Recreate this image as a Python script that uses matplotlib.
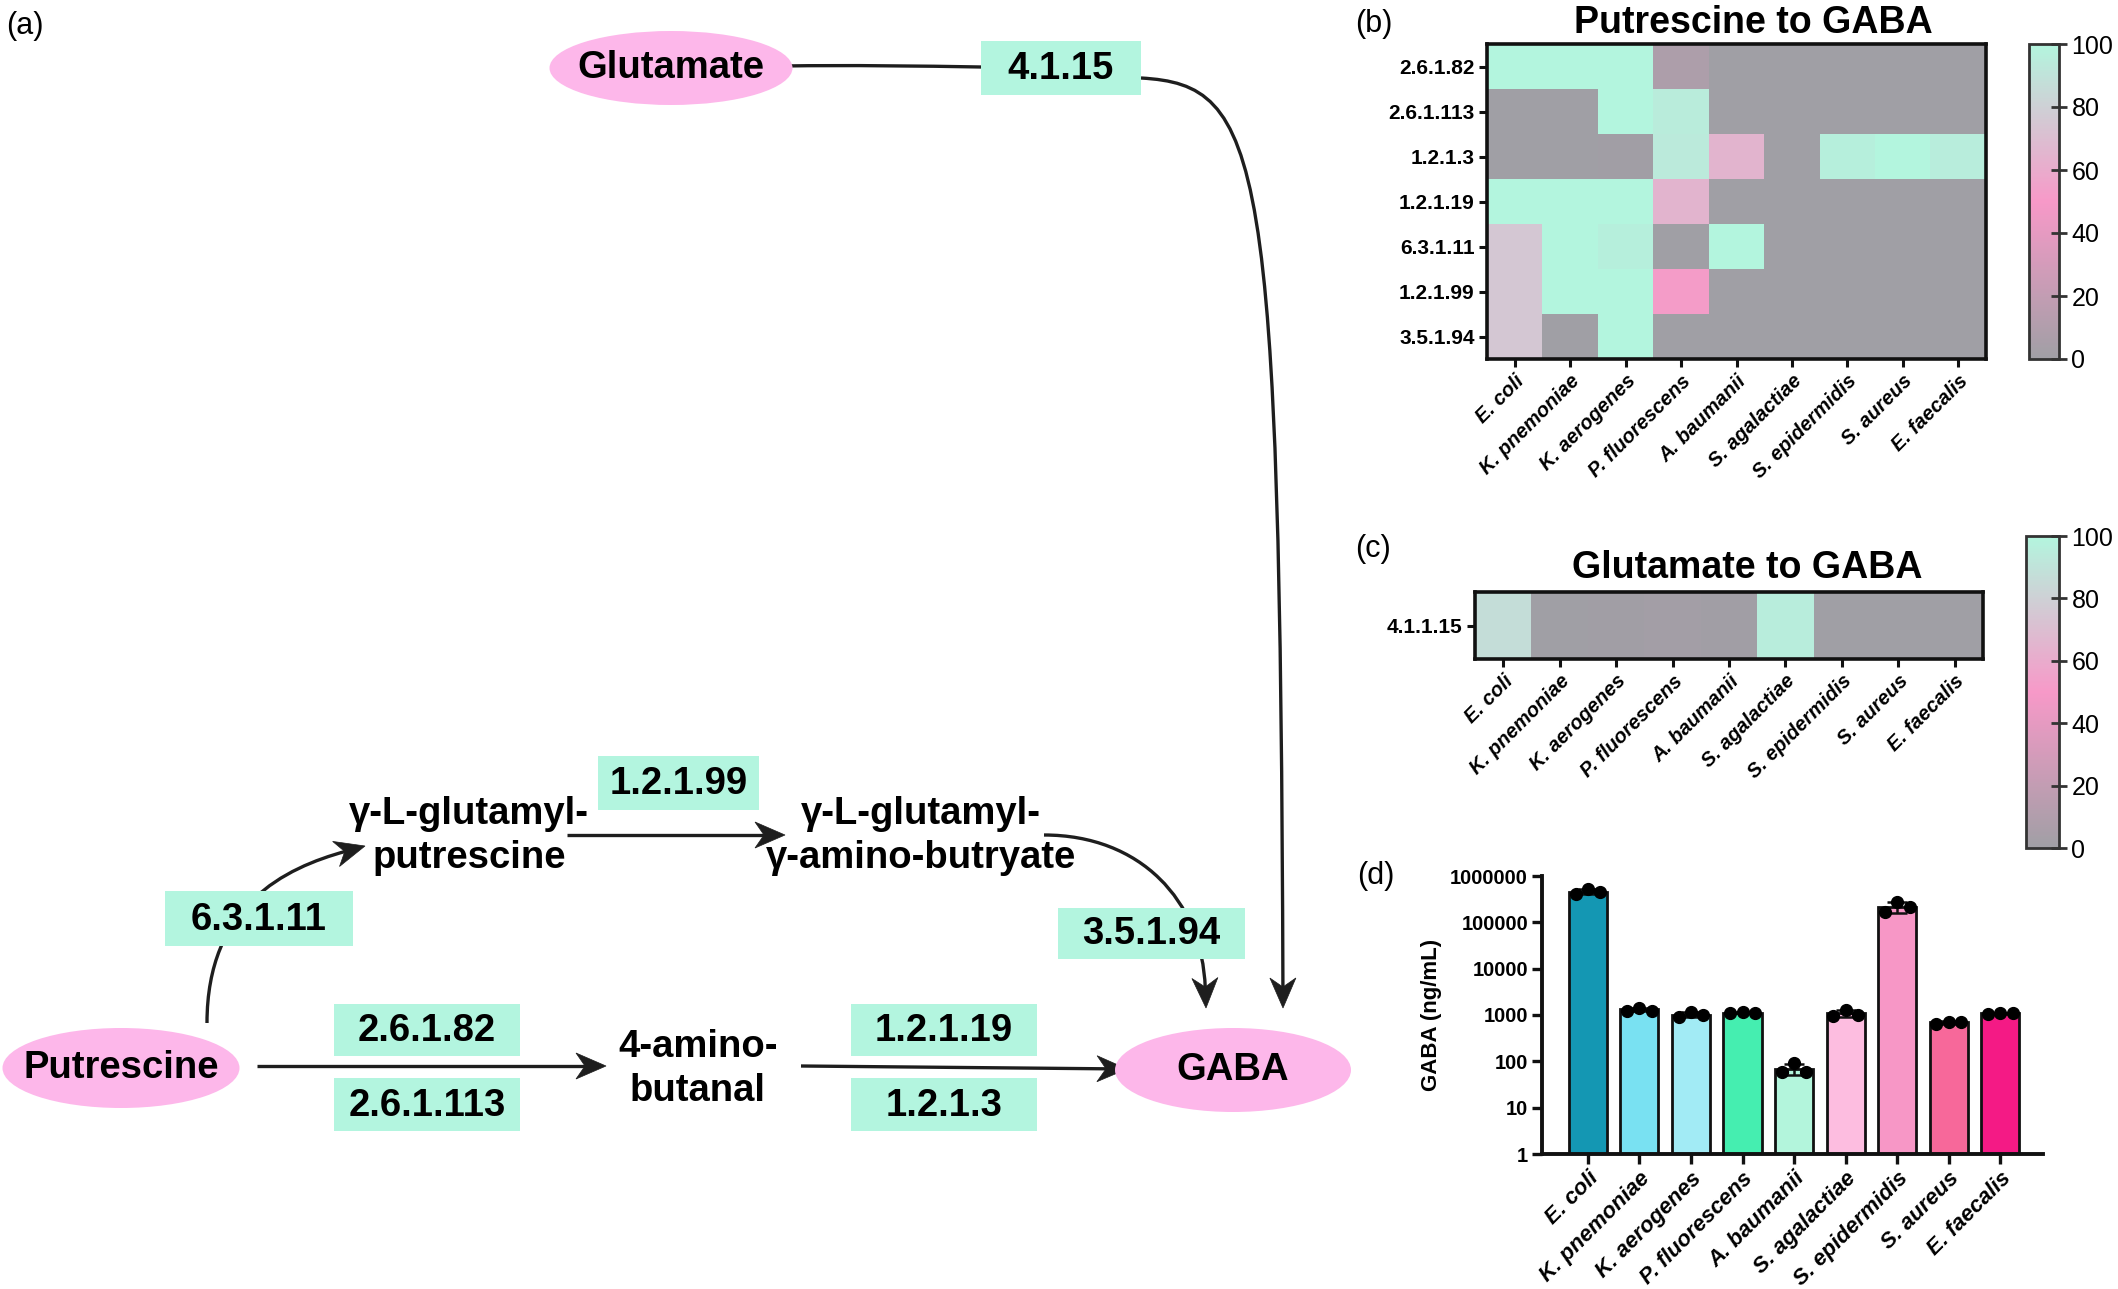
import numpy as np
import matplotlib
matplotlib.use('Agg')
import matplotlib.pyplot as plt
from matplotlib.patches import Ellipse, Rectangle, Polygon, PathPatch
from matplotlib.path import Path
from matplotlib.colors import LinearSegmentedColormap
from matplotlib.ticker import FixedLocator, NullLocator

plt.rcParams['font.family'] = ['Liberation Sans', 'DejaVu Sans']

# ---------------- data ----------------
species = ["E. coli", "K. pnemoniae", "K. aerogenes", "P. fluorescens", "A. baumanii",
           "S. agalactiae", "S. epidermidis", "S. aureus", "E. faecalis"]

put_enzymes = ["2.6.1.82", "2.6.1.113", "1.2.1.3", "1.2.1.19", "6.3.1.11", "1.2.1.99", "3.5.1.94"]
put_values = [
    [100, 100, 100, 8, 0, 0, 0, 0, 0],
    [0, 0, 100, 95, 0, 0, 0, 0, 0],
    [0, 0, 1, 94, 65, 0, 97, 100, 96],
    [100, 100, 100, 65, 0, 0, 0, 0, 0],
    [75, 100, 97, 0, 100, 0, 0, 0, 0],
    [75, 100, 100, 52, 0, 0, 0, 0, 0],
    [75, 0, 100, 0, 0, 0, 0, 0, 0],
]

glu_enzymes = ["4.1.1.15"]
glu_values = [[87, 0, 1, 2, 1, 96, 0, 0, 0]]

gaba_reps = [
    [400000, 520000, 460000],
    [1250, 1450, 1250],
    [900, 1150, 1000],
    [1100, 1150, 1100],
    [58, 90, 60],
    [950, 1300, 1000],
    [165000, 280000, 210000],
    [650, 720, 700],
    [1050, 1100, 1100],
]
bar_colors = ["#1497b3", "#79e1f2", "#a2ebf5", "#45eeb0", "#b3f5dc",
              "#fdbde0", "#f797c6", "#f7689a", "#f41a85"]
gaba_ticks = [1, 10, 100, 1000, 10000, 100000, 1000000]
gaba_ticklabels = ["1", "10", "100", "1000", "10000", "100000", "1000000"]
cbar_ticks = [0, 20, 40, 60, 80, 100]

# ---------------- figure ----------------
W, H = 2118, 1289
fig = plt.figure(figsize=(W / 100, H / 100), dpi=100)


def rect(x0, y0, x1, y1):
    return [x0 / W, 1 - y1 / H, (x1 - x0) / W, (y1 - y0) / H]


cmap = LinearSegmentedColormap.from_list("gpm", ["#a09fa5", "#f799c8", "#b3f5de"])

# ---------------- (a) pathway ----------------
axa = fig.add_axes([0, 0, 1, 1])
axa.set_xlim(0, W)
axa.set_ylim(H, 0)
axa.axis('off')

PINK = "#fdb7ea"
MINT = "#b3f5df"
LINE = "#1e1e1e"
TFS = 27.5
LW = 2.4
HL, HW, HN = 30, 13, 9   # arrow head length, half width, notch depth (px)


def ellipse(cx, cy, w, h, label):
    axa.add_patch(Ellipse((cx, cy), w, h, facecolor=PINK, edgecolor='none', zorder=2))
    axa.text(cx, cy, label, ha='center', va='center', fontsize=TFS, fontweight='bold', zorder=5)


def box(x0, y0, x1, y1, label):
    axa.add_patch(Rectangle((x0, y0), x1 - x0, y1 - y0, facecolor=MINT, edgecolor='none', zorder=3))
    axa.text((x0 + x1) / 2, (y0 + y1) / 2 + 1, label, ha='center', va='center',
             fontsize=TFS, fontweight='bold', zorder=5)


def head(tip, d):
    d = np.asarray(d, float)
    d = d / np.hypot(*d)
    n = np.array([-d[1], d[0]])
    tip = np.asarray(tip, float)
    back = tip - d * HL
    pts = [tip, back + n * HW, tip - d * (HL - HN), back - n * HW]
    axa.add_patch(Polygon(pts, closed=True, facecolor=LINE, edgecolor=LINE, lw=0.5, zorder=1.5))
    return tip - d * (HL - HN - 1)


def path_line(pts, codes):
    axa.add_patch(PathPatch(Path(pts, codes), facecolor='none', edgecolor=LINE, lw=LW,
                            capstyle='butt', zorder=1))


def arrow(p0, p1):
    end = head(p1, np.subtract(p1, p0))
    path_line([p0, tuple(end)], [Path.MOVETO, Path.LINETO])


def curve_arrow(p0, c1, c2, p3, with_head=True):
    if with_head:
        end = tuple(head(p3, np.subtract(p3, c2)))
    else:
        end = p3
    path_line([p0, c1, c2, end], [Path.MOVETO, Path.CURVE4, Path.CURVE4, Path.CURVE4])


axa.text(6, 26, "(a)", fontsize=22, ha='left', va='center')

ellipse(671, 68, 243, 74, "Glutamate")
box(981, 41, 1141, 95, "4.1.15")
curve_arrow((783, 66), (850, 65), (920, 66), (981, 67), with_head=False)
curve_arrow((1141, 78), (1262, 85), (1280, 150), (1283, 1008))

ellipse(121, 1068, 237, 80, "Putrescine")
ellipse(1233, 1070, 236, 84, "GABA")

box(165, 891, 353, 946, "6.3.1.11")
box(598, 756, 759, 810, "1.2.1.99")
box(1058, 908, 1245, 959, "3.5.1.94")
box(334, 1004, 520, 1056, "2.6.1.82")
box(334, 1078, 520, 1131, "2.6.1.113")
box(851, 1004, 1037, 1056, "1.2.1.19")
box(851, 1078, 1037, 1131, "1.2.1.3")

axa.text(469, 836, "γ-L-glutamyl-\nputrescine", ha='center', va='center', fontsize=TFS,
         fontweight='bold', linespacing=1.32)
axa.text(921, 836, "γ-L-glutamyl-\nγ-amino-butryate", ha='center', va='center', fontsize=TFS,
         fontweight='bold', linespacing=1.32)
axa.text(698, 1069, "4-amino-\nbutanal", ha='center', va='center', fontsize=TFS,
         fontweight='bold', linespacing=1.32)

curve_arrow((207, 1023), (207, 905), (285, 868), (365, 846))
arrow((567, 835), (785, 835))
curve_arrow((1044, 835), (1140, 835), (1202, 900), (1206, 1008))
arrow((257, 1066), (606, 1066))
arrow((801, 1066), (1127, 1069))

# ---------------- heatmaps ----------------


def heatmap(ax_rect, cax_rect, values, rows, title, title_xy, label, label_xy):
    ax = fig.add_axes(ax_rect)
    im = ax.imshow(np.array(values, dtype=float), cmap=cmap, vmin=0, vmax=100,
                   aspect='auto', interpolation='nearest')
    ax.set_yticks(range(len(rows)))
    ax.set_yticklabels(rows, fontsize=15, fontweight='bold')
    ax.set_xticks(range(len(species)))
    ax.set_xticklabels(species, fontsize=14.5, fontweight='bold', style='italic',
                       rotation=45, ha='right', rotation_mode='anchor')
    ax.tick_params(axis='both', width=2.2, length=6, direction='out', color='#111111', pad=3)
    for s in ax.spines.values():
        s.set_linewidth(2.6)
        s.set_color('#111111')
    fig.text(title_xy[0] / W, 1 - title_xy[1] / H, title, ha='center', va='center',
             fontsize=27, fontweight='bold')
    fig.text(label_xy[0] / W, 1 - label_xy[1] / H, label, ha='left', va='center', fontsize=22)
    cax = fig.add_axes(cax_rect)
    cb = fig.colorbar(im, cax=cax, ticks=cbar_ticks)
    cb.outline.set_linewidth(2)
    cb.outline.set_edgecolor('#333333')
    cax.tick_params(direction='inout', length=11, width=2, labelsize=18, color='#333333')
    return ax


heatmap(rect(1487, 44, 1986, 359), rect(2029, 44, 2059, 359), put_values, put_enzymes,
        "Putrescine to GABA", (1753, 23), "(b)", (1355, 24))
heatmap(rect(1475, 592, 1983, 659), rect(2026, 536, 2059, 848), glu_values, glu_enzymes,
        "Glutamate to GABA", (1747, 568), "(c)", (1355, 549))

# ---------------- (d) bar chart ----------------
axd = fig.add_axes(rect(1542, 876, 2043, 1154))
x = np.arange(len(species))
reps = np.array(gaba_reps, dtype=float)
means = reps.mean(axis=1)
sds = reps.std(axis=1, ddof=1)
axd.bar(x, means - 1, bottom=1, width=0.74, color=bar_colors, edgecolor='#111111',
        linewidth=2, zorder=2)
axd.errorbar(x, means, yerr=sds, fmt='none', ecolor='#111111', elinewidth=1.8,
             capsize=7, capthick=1.8, zorder=3)
offs = np.array([-0.24, 0.0, 0.24])
for i in range(len(species)):
    axd.plot(x[i] + offs, reps[i], 'o', color='black', markersize=8.5, zorder=4,
             clip_on=False)
axd.set_yscale('log')
axd.set_ylim(1, 1e6)
axd.set_xlim(-0.89, 8.83)
axd.yaxis.set_major_locator(FixedLocator(gaba_ticks))
axd.yaxis.set_minor_locator(NullLocator())
axd.set_yticklabels(gaba_ticklabels, fontsize=14.5, fontweight='bold')
axd.set_xticks(x)
axd.set_xticklabels(species, fontsize=16, fontweight='bold', style='italic',
                    rotation=45, ha='right', rotation_mode='anchor')
axd.tick_params(axis='both', width=2.4, length=7, direction='out', color='#111111', pad=3)
for s in ['top', 'right']:
    axd.spines[s].set_visible(False)
for s in ['left', 'bottom']:
    axd.spines[s].set_linewidth(2.8)
    axd.spines[s].set_color('#111111')
axd.set_ylabel("GABA (ng/mL)", fontsize=16, fontweight='bold', labelpad=6)
fig.text(1357 / W, 1 - 876 / H, "(d)", ha='left', va='center', fontsize=22)

fig.savefig("out.png", dpi=100)
